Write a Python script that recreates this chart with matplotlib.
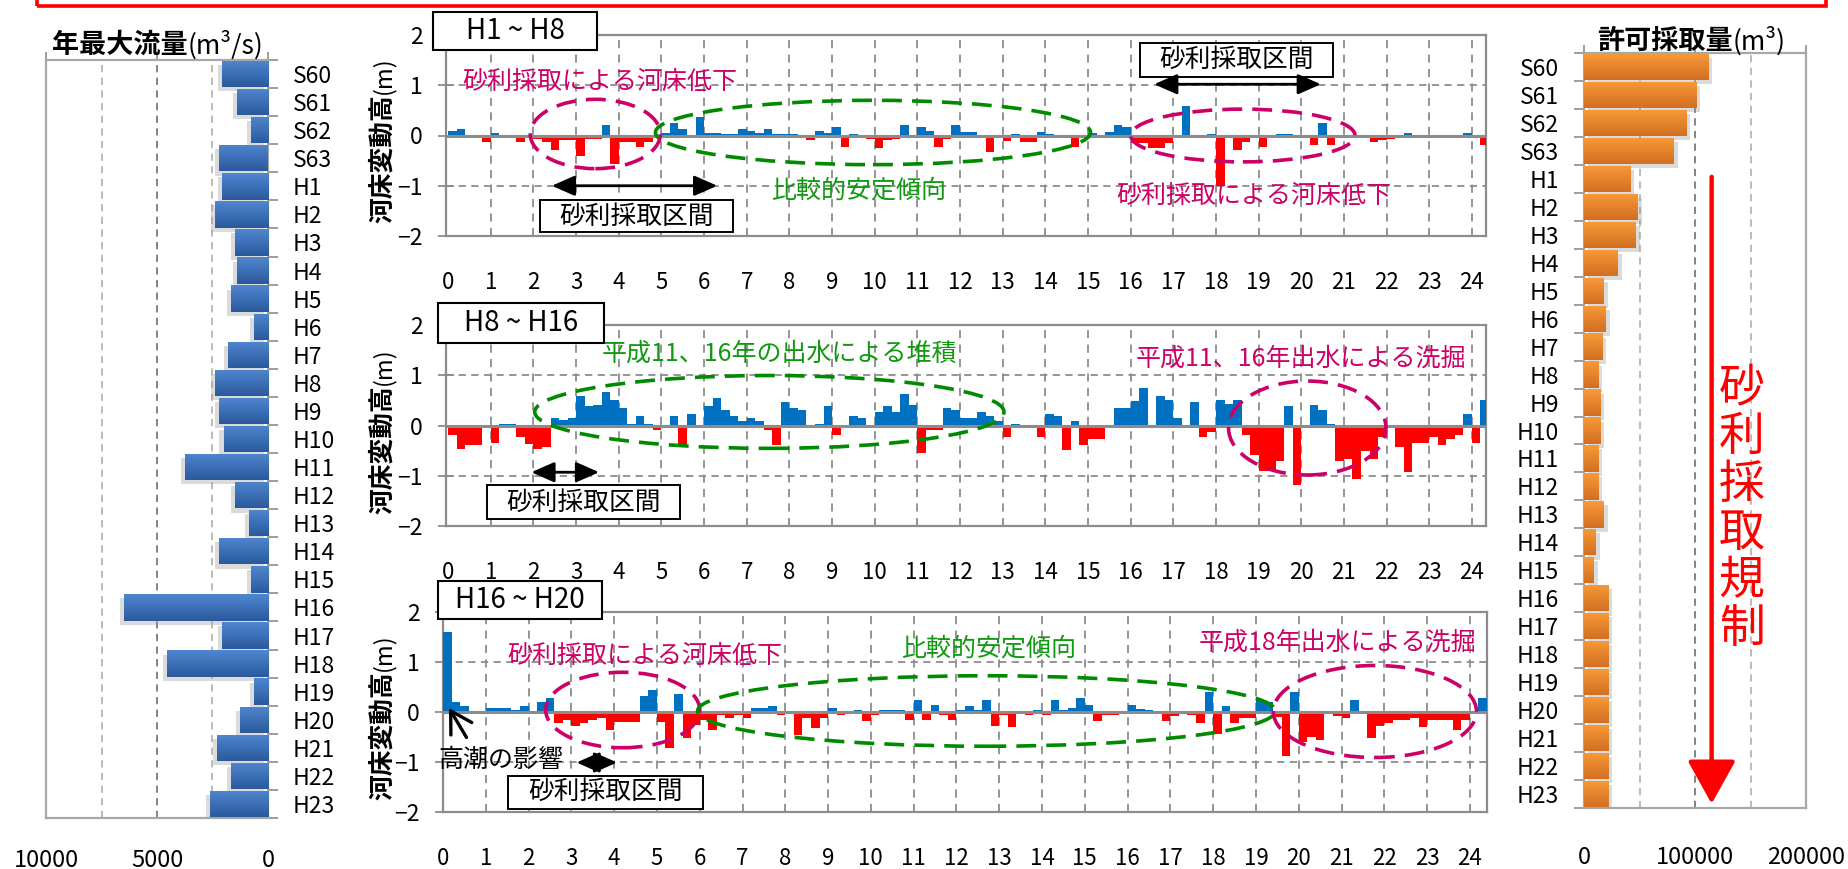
import matplotlib.pyplot as plt
import matplotlib.patches as mpatches
import matplotlib.patheffects as pe
from matplotlib.colors import LinearSegmentedColormap
import numpy as np

plt.rcParams['font.family'] = ['Noto Sans CJK JP', 'DejaVu Sans']

# ---- data ----
years = ['S60', 'S61', 'S62', 'S63', 'H1', 'H2', 'H3', 'H4', 'H5', 'H6', 'H7', 'H8', 'H9',
         'H10', 'H11', 'H12', 'H13', 'H14', 'H15', 'H16', 'H17', 'H18', 'H19', 'H20',
         'H21', 'H22', 'H23']
# annual peak discharge (m3/s)
peak_flow = [2080, 1400, 780, 2200, 2080, 2400, 1500, 1400, 1680, 640, 1810, 2400, 2220,
             2000, 3750, 1500, 870, 2220, 780, 6490, 2080, 4560, 640, 1270, 2310, 1680, 2620]
# permitted gravel extraction (m3)
permit_volume = [112000, 101000, 92000, 80700, 41600, 48500, 46700, 30400, 18000, 19600,
                 16300, 12700, 14500, 14500, 12700, 12700, 18000, 10800, 9000, 21700,
                 21700, 21700, 21700, 21700, 21700, 21700, 21700]

# river-bed change (m) every 200 m from 0 km to 24.2 km
stations = np.round(np.arange(122) * 0.2, 1)
bed_h1_h8 = [0.08, 0.13, 0.00, -0.04, -0.13, 0.04, -0.05, -0.05, -0.12, -0.05,
             -0.07, -0.12, -0.29, -0.09, -0.09, -0.41, -0.07, -0.07, 0.21, -0.57,
             -0.13, -0.13, -0.22, -0.12, -0.05, 0.05, 0.25, 0.13, -0.03, 0.37,
             0.05, 0.05, 0.03, 0.03, 0.13, 0.08, 0.04, 0.13, 0.03, 0.03,
             0.03, 0.00, -0.09, 0.09, 0.04, 0.16, -0.22, 0.03, -0.05, -0.07,
             -0.25, -0.09, -0.06, 0.21, -0.03, 0.16, 0.08, -0.22, -0.07, 0.21,
             0.07, 0.07, -0.05, -0.33, -0.03, -0.10, 0.03, -0.13, -0.13, 0.06,
             0.03, 0.00, -0.05, -0.22, 0.00, 0.04, 0.00, 0.07, 0.21, 0.16,
             -0.15, -0.15, -0.24, -0.24, -0.15, -0.03, 0.58, -0.05, 0.00, 0.03,
             -1.00, -0.05, -0.29, -0.13, -0.05, -0.22, -0.05, 0.03, 0.03, -0.05,
             -0.05, -0.18, 0.25, -0.18, -0.05, 0.00, 0.00, 0.00, -0.13, -0.09,
             -0.06, 0.00, 0.04, -0.05, -0.05, 0.00, -0.05, 0.00, -0.05, 0.04,
             -0.05, -0.18]
bed_h8_h16 = [-0.18, -0.46, -0.39, -0.39, 0.00, -0.34, 0.03, 0.03, -0.22, -0.36,
              -0.46, -0.43, 0.14, 0.10, 0.15, 0.58, 0.38, 0.41, 0.66, 0.50,
              0.34, 0.03, 0.18, 0.03, -0.09, 0.00, 0.18, -0.41, 0.22, -0.05,
              0.38, 0.54, 0.31, 0.18, 0.09, 0.14, 0.09, -0.09, -0.38, 0.47,
              0.34, 0.30, -0.05, 0.03, 0.38, -0.18, 0.00, 0.18, 0.14, 0.00,
              0.27, 0.38, 0.27, 0.62, 0.41, -0.54, -0.09, -0.09, 0.34, 0.30,
              0.14, 0.14, 0.26, 0.18, 0.09, -0.22, 0.03, -0.05, 0.00, -0.22,
              0.22, 0.18, -0.49, 0.08, -0.38, -0.26, -0.26, 0.00, 0.34, 0.34,
              0.49, 0.74, -0.05, 0.58, 0.50, 0.15, 0.00, 0.47, -0.22, -0.12,
              0.50, 0.42, 0.50, -0.18, -0.59, -0.90, -0.90, -0.70, 0.38, -1.19,
              -0.05, 0.41, 0.30, 0.03, -0.70, -0.66, -1.07, -0.50, -0.66, -0.22,
              0.00, -0.43, -0.92, -0.34, -0.34, -0.22, -0.38, -0.26, -0.18, 0.22,
              -0.34, 0.50]
bed_h16_h20 = [1.61, 0.20, 0.12, 0.00, -0.04, 0.08, 0.08, 0.08, 0.05, 0.12,
               0.01, 0.20, 0.29, -0.21, -0.16, -0.27, -0.21, -0.16, -0.11, -0.35,
               -0.20, -0.20, -0.20, 0.32, 0.44, -0.20, -0.72, 0.37, -0.52, -0.25,
               -0.15, -0.35, -0.05, -0.11, -0.05, -0.11, 0.08, 0.08, 0.12, -0.05,
               0.00, -0.45, -0.11, -0.32, -0.11, 0.08, -0.05, 0.03, 0.04, -0.18,
               -0.05, 0.04, 0.04, 0.04, -0.15, 0.24, -0.15, 0.15, -0.05, -0.15,
               0.04, 0.12, 0.05, 0.24, -0.27, -0.05, -0.30, 0.00, -0.05, 0.04,
               -0.05, 0.24, 0.04, 0.08, 0.29, 0.15, -0.18, -0.05, -0.05, 0.00,
               0.15, 0.07, 0.04, 0.00, -0.18, -0.07, 0.00, -0.05, -0.21, 0.40,
               -0.43, 0.12, -0.21, -0.12, -0.12, 0.24, 0.20, -0.10, -0.87, 0.41,
               -0.60, -0.50, -0.55, 0.00, -0.07, -0.11, 0.24, 0.00, -0.52, -0.27,
               -0.21, -0.15, -0.15, -0.11, -0.30, -0.16, -0.16, -0.16, -0.35, -0.15,
               0.00, 0.29]

W, H = 1849, 869
fig = plt.figure(figsize=(W / 100, H / 100), dpi=100)

GRID = '#8c8c8c'
MAGENTA = '#cc0066'
GREEN_LINE = '#008a00'
GREEN_TEXT = '#109910'
DASH = (0, (5.5, 2.8))


def px_rect(x0, y0, x1, y1):
    # pixel box measured from top-left -> figure fraction rect
    return [x0 / W, 1 - y1 / H, (x1 - x0) / W, (y1 - y0) / H]


def shade_bars(ax, bars, c_top, c_bot):
    cmap = LinearSegmentedColormap.from_list('shade', [c_top, c_bot])
    grad = np.linspace(0, 1, 32).reshape(-1, 1)
    for b in bars:
        x0, y0 = b.get_x(), b.get_y()
        w, h = b.get_width(), b.get_height()
        im = ax.imshow(grad, cmap=cmap, extent=[x0, x0 + w, y0 + h, y0],
                       aspect='auto', zorder=3.5, interpolation='bilinear')
        im.set_clip_path(b)


def side_chart(rect, values, xmax, color, c_top, c_bot, side):
    ax = fig.add_axes(rect)
    ypos = np.arange(len(years))
    shadow_dx = -3 if side == 'right' else 3
    bars = ax.barh(ypos, values, height=0.94, color=color, zorder=3,
                   path_effects=[pe.SimplePatchShadow(offset=(shadow_dx, -3),
                                                      shadow_rgbFace='#9a9a9a', alpha=0.35),
                                 pe.Normal()])
    shade_bars(ax, bars, c_top, c_bot)
    ax.set_ylim(len(years) - 0.5, -0.5)
    ax.set_yticks(ypos)
    ax.set_yticklabels(years)
    ax.set_yticks(np.arange(len(years) + 1) - 0.5, minor=True)
    if side == 'right':
        ax.set_xlim(xmax, 0)
        ax.yaxis.tick_right()
        ax.tick_params(axis='y', which='minor', right=True, left=False, length=7,
                       width=1.2, color=GRID)
    else:
        ax.set_xlim(0, xmax)
        ax.tick_params(axis='y', which='minor', left=True, right=False, length=7,
                       width=1.2, color=GRID)
    ax.tick_params(axis='y', which='major', length=0, pad=18, labelsize=16.5)
    ax.set_xticks([0, xmax / 2, xmax])
    ax.set_xticklabels(['0', f'{int(xmax / 2)}', f'{int(xmax)}'])
    ax.tick_params(axis='x', top=True, bottom=False, labeltop=False, labelbottom=True,
                   length=6, width=1.2, color=GRID, labelsize=17)
    ax.axvline(xmax / 2, color='#7a7a7a', lw=1.3, ls=(0, (4, 3)), zorder=1)
    for v in (xmax / 4, xmax * 3 / 4):
        ax.axvline(v, color='#b5b5b5', lw=1.3, ls=(0, (4, 3)), zorder=1)
    for s in ax.spines.values():
        s.set_color('#a8a8a8')
        s.set_linewidth(1.6)
    return ax


# ---- annual peak discharge (left) ----
axL = side_chart(px_rect(46, 60, 268, 818), peak_flow, 10000, '#3a6eb8',
                 '#4f86d0', '#2b5a9c', 'right')
axL.tick_params(axis='x', pad=16)
tL = fig.text(52 / W, 1 - 45 / H, '年最大流量', fontsize=19.5, fontweight='bold',
              ha='left', va='center')
axL.annotate('(m³/s)', xy=(1, 0.5), xycoords=tL, ha='left', va='center', fontsize=19)

# ---- permitted extraction (right) ----
axR = side_chart(px_rect(1584, 53, 1806, 808), permit_volume, 200000, '#ec8a2e',
                 '#f89a38', '#d26f22', 'left')
axR.tick_params(axis='x', pad=21)
tR = fig.text(1597 / W, 1 - 41 / H, '許可採取量', fontsize=19.5, fontweight='bold',
              ha='left', va='center')
axR.annotate('(m³)', xy=(1, 0.5), xycoords=tR, ha='left', va='center', fontsize=19)
axR.annotate('', xy=(115000, 26.35), xytext=(115000, 3.93),
             arrowprops=dict(arrowstyle='-|>,head_length=0.9,head_width=0.5', color='red',
                             lw=3.2, mutation_scale=30, shrinkA=0, shrinkB=0), zorder=6)
for i, ch in enumerate('砂利採取規制'):
    axR.text(142000, 11.5 + i * 1.72, ch, color='red', fontsize=33, ha='center',
             va='center', zorder=6)


# ---- river-bed change panels ----
def bed_panel(rect, xlim, vals, y_label_bottom):
    ax = fig.add_axes(rect)
    vals = np.asarray(vals)
    colors = np.where(vals >= 0, '#0070c0', '#ff0000')
    ax.bar(stations, vals, width=0.2, align='edge', color=colors, linewidth=0, zorder=3)
    ax.axhline(0, color=GRID, lw=2.2, zorder=4)
    for yv in (1, -1):
        ax.axhline(yv, color=GRID, lw=1.3, ls=(0, (4, 3)), zorder=1)
    for k in range(1, 25):
        ax.axvline(k, color=GRID, lw=1.3, ls=(0, (4.5, 3.5)), zorder=1)
    ax.set_xlim(*xlim)
    ax.set_ylim(-2, 2)
    ax.set_xticks(range(25))
    ax.set_yticks([-2, -1, 0, 1, 2])
    ax.tick_params(axis='x', length=0, pad=25, labelsize=16)
    ax.tick_params(axis='y', direction='inout', length=11, width=1.3, color=GRID,
                   pad=11, labelsize=16.5)
    for s in ax.spines.values():
        s.set_color(GRID)
        s.set_linewidth(1.6)
    t = fig.text(383 / W, 1 - y_label_bottom / H, '河床変動高', rotation=90,
                 fontsize=18.5, fontweight='bold', ha='center', va='bottom')
    ax.annotate('(m)', xy=(0.5, 1), xycoords=t, rotation=90, ha='center', va='bottom',
                fontsize=17)
    return ax


def ellipse(ax, cx, cy, w, h, color):
    ax.add_patch(mpatches.Ellipse((cx, cy), w, h, fill=False, edgecolor=color, lw=2.6,
                                  ls=DASH, zorder=6))


def double_arrow(ax, x0, x1, y):
    ax.annotate('', xy=(x1, y), xytext=(x0, y),
                arrowprops=dict(arrowstyle='<|-|>,head_length=0.5,head_width=0.22',
                                color='black', lw=2, mutation_scale=28,
                                shrinkA=0, shrinkB=0), zorder=7)


def section_box(ax, x0, y0, w, h):
    ax.add_patch(mpatches.Rectangle((x0, y0), w, h, fc='white', ec='black', lw=1.4,
                                    zorder=7))
    ax.text(x0 + w / 2, y0 + h / 2, '砂利採取区間', fontsize=18.5, ha='center',
            va='center', zorder=8)


ax1 = bed_panel(px_rect(446, 35, 1486, 236), (-0.05, 24.33), bed_h1_h8, 223)
ax2 = bed_panel(px_rect(446, 325, 1486, 526), (-0.05, 24.33), bed_h8_h16, 514)
ax3 = bed_panel(px_rect(443, 612, 1487, 812), (0, 24.4), bed_h16_h20, 800)

# H1~H8
ax1.text(3.55, 1.07, '砂利採取による河床低下', color=MAGENTA, fontsize=18, ha='center',
         va='center', zorder=8)
ellipse(ax1, 3.45, 0.03, 3.05, 1.38, MAGENTA)
ellipse(ax1, 9.96, 0.06, 10.2, 1.28, GREEN_LINE)
ax1.text(9.63, -1.09, '比較的安定傾向', color=GREEN_TEXT, fontsize=18, ha='center',
         va='center', zorder=8)
double_arrow(ax1, 2.43, 6.31, -1.0)
section_box(ax1, 2.16, -1.93, 4.52, 0.64)
section_box(ax1, 16.22, 1.17, 4.52, 0.68)
double_arrow(ax1, 16.55, 20.46, 1.02)
ellipse(ax1, 18.63, 0.0, 5.26, 1.05, MAGENTA)
ax1.text(18.89, -1.21, '砂利採取による河床低下', color=MAGENTA, fontsize=18,
         ha='center', va='center', zorder=8)

# H8~H16
ax2.text(7.77, 1.43, '平成11、16年の出水による堆積', color=GREEN_TEXT, fontsize=18,
         ha='center', va='center', zorder=8)
ellipse(ax2, 7.53, 0.27, 11.0, 1.45, GREEN_LINE)
double_arrow(ax2, 1.95, 3.54, -0.93)
section_box(ax2, 0.9, -1.87, 4.54, 0.68)
ax2.text(19.99, 1.33, '平成11、16年出水による洗掘', color=MAGENTA, fontsize=18,
         ha='center', va='center', zorder=8)
ellipse(ax2, 20.14, -0.05, 3.69, 1.87, MAGENTA)

# H16~H20
ax3.text(4.71, 1.13, '砂利採取による河床低下', color=MAGENTA, fontsize=18, ha='center',
         va='center', zorder=8)
ellipse(ax3, 4.2, 0.04, 3.6, 1.51, MAGENTA)
ax3.text(12.76, 1.26, '比較的安定傾向', color=GREEN_TEXT, fontsize=18, ha='center',
         va='center', zorder=8)
ellipse(ax3, 12.7, 0.02, 13.5, 1.41, GREEN_LINE)
ax3.text(20.9, 1.39, '平成18年出水による洗掘', color=MAGENTA, fontsize=18, ha='center',
         va='center', zorder=8)
ellipse(ax3, 21.78, 0.01, 4.75, 1.84, MAGENTA)
ax3.text(1.35, -0.95, '高潮の影響', fontsize=18, ha='center', va='center', zorder=8)
ax3.annotate('', xy=(0.14, 0.08), xytext=(0.55, -0.51),
             arrowprops=dict(arrowstyle='->,head_length=0.6,head_width=0.35', color='black',
                             lw=2.4, mutation_scale=25, shrinkA=0, shrinkB=0), zorder=8)
double_arrow(ax3, 3.12, 4.07, -1.01)
section_box(ax3, 1.53, -1.93, 4.54, 0.66)

# period labels
for (x0, y0, x1, y1, label) in [(433, 12, 597, 50, 'H1 ~ H8'),
                                (438, 303, 604, 343, 'H8 ~ H16'),
                                (438, 581, 602, 619, 'H16 ~ H20')]:
    fig.add_artist(mpatches.Rectangle((x0 / W, 1 - y1 / H), (x1 - x0) / W, (y1 - y0) / H,
                                      transform=fig.transFigure, fc='white', ec='black',
                                      lw=1.5, zorder=10))
    fig.text((x0 + x1) / 2 / W, 1 - (y0 + y1) / 2 / H, label, ha='center', va='center',
             fontsize=20, zorder=11)

# red frame running off the top edge
fig.add_artist(mpatches.Rectangle((37 / W, 1 - 6 / H), 1789 / W, 20 / H,
                                  transform=fig.transFigure, fill=False, ec='red',
                                  lw=2.6, zorder=12, clip_on=False))

fig.savefig('out.png', dpi=100)
